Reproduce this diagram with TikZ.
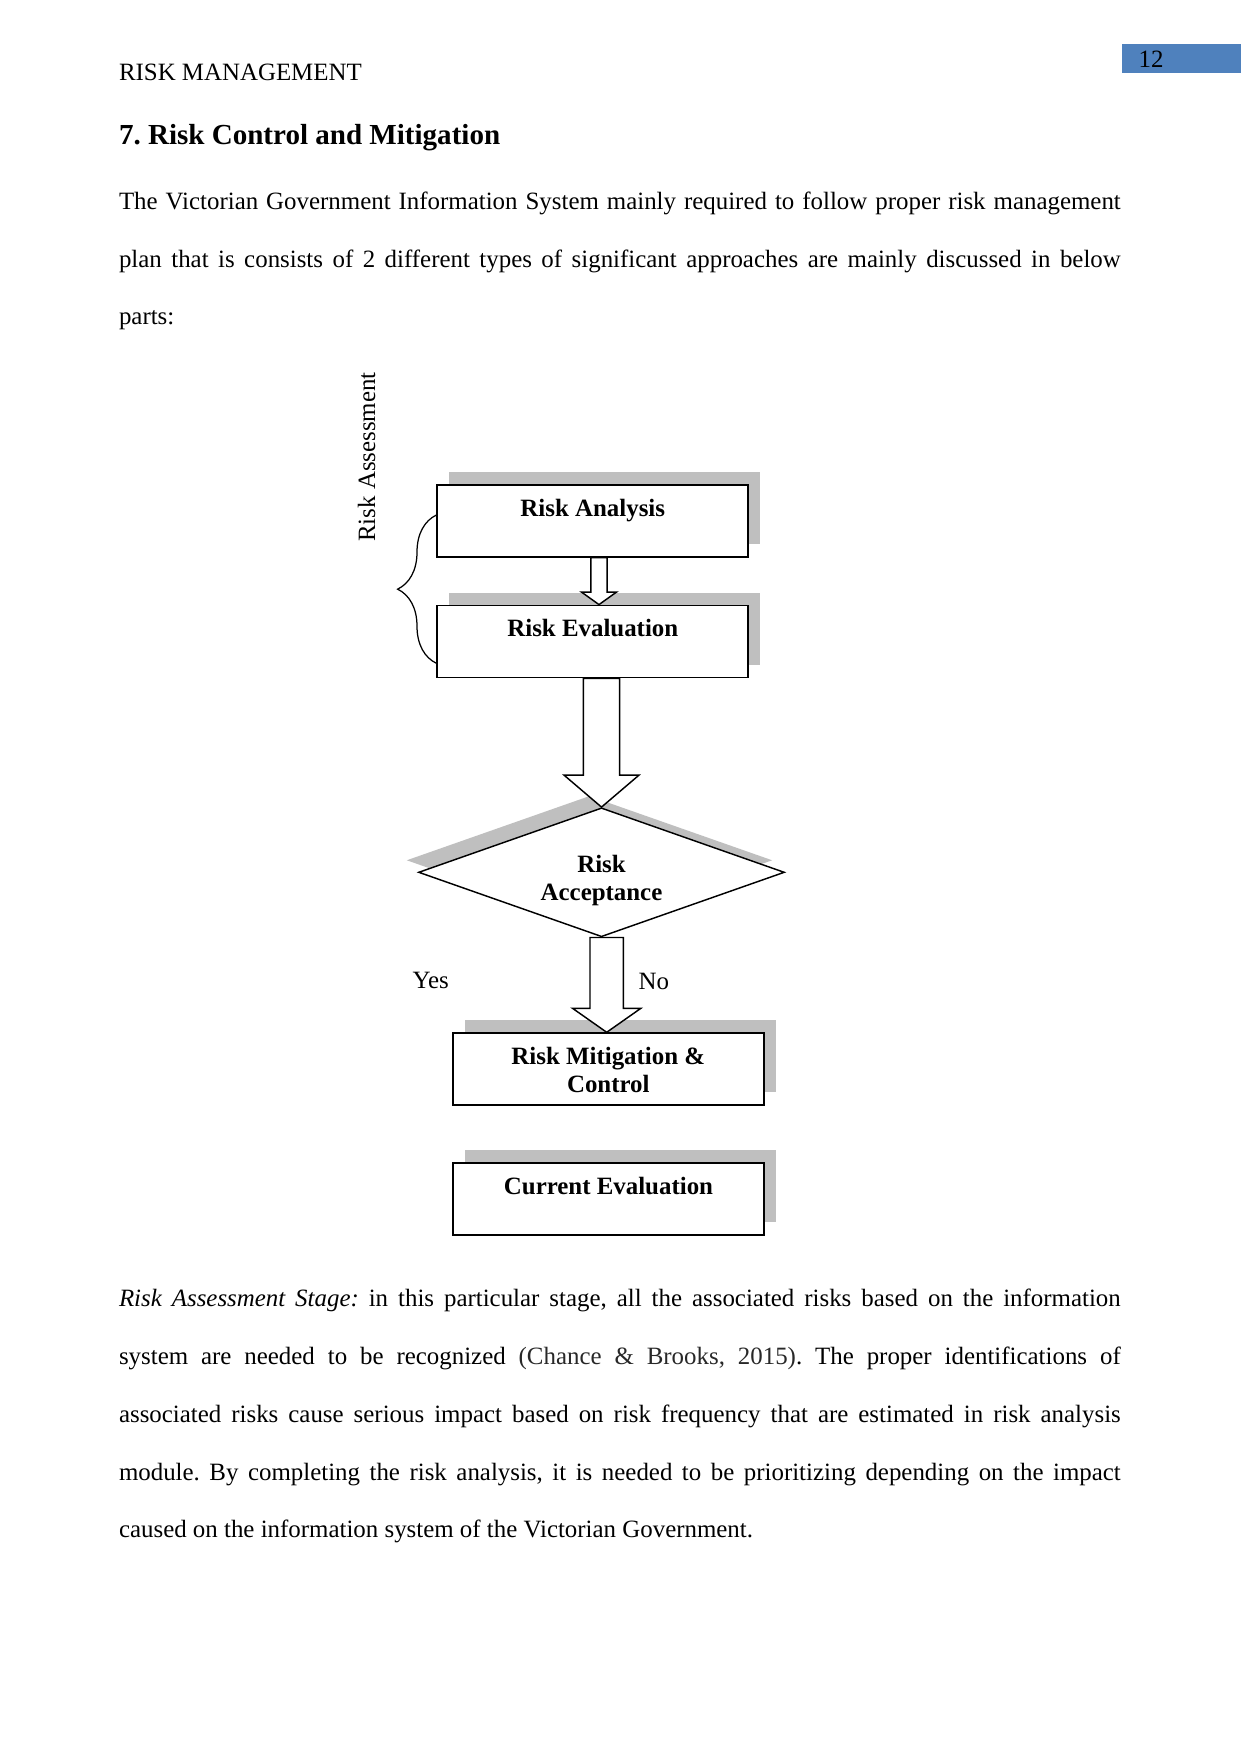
\documentclass[tikz,border=0pt]{standalone}
\usepackage{fontspec}
\setmainfont{Liberation Serif}
\usetikzlibrary{shapes.geometric,positioning,calc,shadows,decorations.pathreplacing}
\definecolor{pageblue}{RGB}{79,129,189}
\definecolor{citegray}{RGB}{40,40,40}
\frenchspacing

% hollow block arrow: tail node, tip node, half shaft, half head, head length
\newcommand{\fatarrow}[5]{%
  \draw[blockarr] ($(#2 |- #1)+(-#3,0)$) -- ($(#2)+(-#3,-#5)$) -- ($(#2)+(-#4,-#5)$) -- (#2)
    -- ($(#2)+(#4,-#5)$) -- ($(#2)+(#3,-#5)$) -- ($(#2 |- #1)+(#3,0)$) -- cycle;}

\begin{document}
\begin{tikzpicture}[
      x=0.016933cm, y=-0.016933cm,
      box/.style={draw, line width=0.9pt, fill=white, minimum width=5.266cm, minimum height=1.219cm, inner sep=0pt,
        general shadow={fill=black!25, shadow xshift=5.8pt, shadow yshift=6.2pt}},
      decision/.style={diamond, draw, line width=0.7pt, fill=white, minimum width=6.198cm, minimum height=2.184cm, inner sep=0pt,
        general shadow={fill=black!25, shadow xshift=-5.8pt, shadow yshift=5.8pt}},
      boxtext/.style={font=\fontsize{12}{13.4}\selectfont\bfseries, align=center, inner sep=0pt},
      plain/.style={font=\fontsize{12}{14}\selectfont, inner sep=0pt},
      para/.style={font=\fontsize{12}{27.84}\selectfont, inner sep=0pt, text width=16.967cm, align=justify, anchor=north west},
      pagebox/.style={fill=pageblue, minimum width=2.02cm, minimum height=0.486cm, inner sep=0pt},
      blockarr/.style={draw, fill=white, line width=0.7pt, line join=miter},
      curly/.style={decorate, decoration={brace, amplitude=18.7pt}, line width=0.6pt}
    ]
    \useasboundingbox[fill=white] (0,0) rectangle (1241,1754);

    % page header and heading
    \node[plain, anchor=base west] (head) at (118.6,80) {RISK MANAGEMENT};
    \node[pagebox] (pgbox) at (1181.4,58.4) {};
    \node[plain, anchor=base west] (pgno) at (1138.3,67.3) {12};
    \node[plain, font=\fontsize{14}{16}\selectfont\bfseries, anchor=base west] (title) at (118.6,144) {7. Risk Control and Mitigation};

    \node[para] (intro) at (118.6,190.3) {\tolerance=9999\rule{0pt}{9pt}The Victorian Government Information System mainly required to follow proper risk management\linebreak
      plan that is consists of 2 different types of significant approaches are mainly discussed in below\linebreak
      parts:};

    % flow chart
    \node[box] (ana) at (592.8,520.7) {};
    \node[boxtext, below=7pt of ana.north] (anaT) {Risk Analysis};
    \node[box] (eva) at (592.8,641.5) {};
    \node[boxtext, below=7pt of eva.north] (evaT) {Risk Evaluation};
    \node[decision] (acc) at (601.5,872.3) {};
    \node[boxtext, anchor=north] (accT) at ($(acc.center)+(0,-17.7)$) {Risk\\Acceptance};
    \node[box] (mit) at (608.3,1069.2) {};
    \node[boxtext, below=7pt of mit.north] (mitT) {Risk Mitigation \&\\Control};
    \node[box] (cur) at (608.5,1199.2) {};
    \node[boxtext, below=7pt of cur.north] (curT) {Current Evaluation};

    \node[plain, rotate=90, anchor=base] (assess) at (375,457) {Risk Assessment};
    \draw[curly] ($(eva.west)+(0,21.8)$) -- ($(ana.west)+(0,-5.7)$);

    \coordinate (tipA) at ($(eva.north)+(6.2,0)$);
    \coordinate (tipC) at ($(mit.north)+(-1.6,0)$);
    \fatarrow{ana.south}{tipA}{8.2}{17.5}{12.5}
    \fatarrow{eva.south}{acc.north}{18.2}{37.5}{32}
    \fatarrow{acc.south}{tipC}{16.7}{34.2}{24}

    \node[plain, anchor=base] (yes) at (430.8,988) {Yes};
    \node[plain, anchor=base] (no) at (653.8,989) {No};

    \node[para] (stage) at (118.6,1287.8) {\tolerance=9999\rule{0pt}{9pt}\textit{Risk Assessment Stage:} in this particular stage, all the associated risks based on the information\linebreak
      system are needed to be recognized {\color{citegray}(Chance \& Brooks, 2015)}. The proper identifications of\linebreak
      associated risks cause serious impact based on risk frequency that are estimated in risk analysis\linebreak
      module. By completing the risk analysis, it is needed to be prioritizing depending on the impact\linebreak
      caused on the information system of the Victorian Government.};
  \end{tikzpicture}
\end{document}
